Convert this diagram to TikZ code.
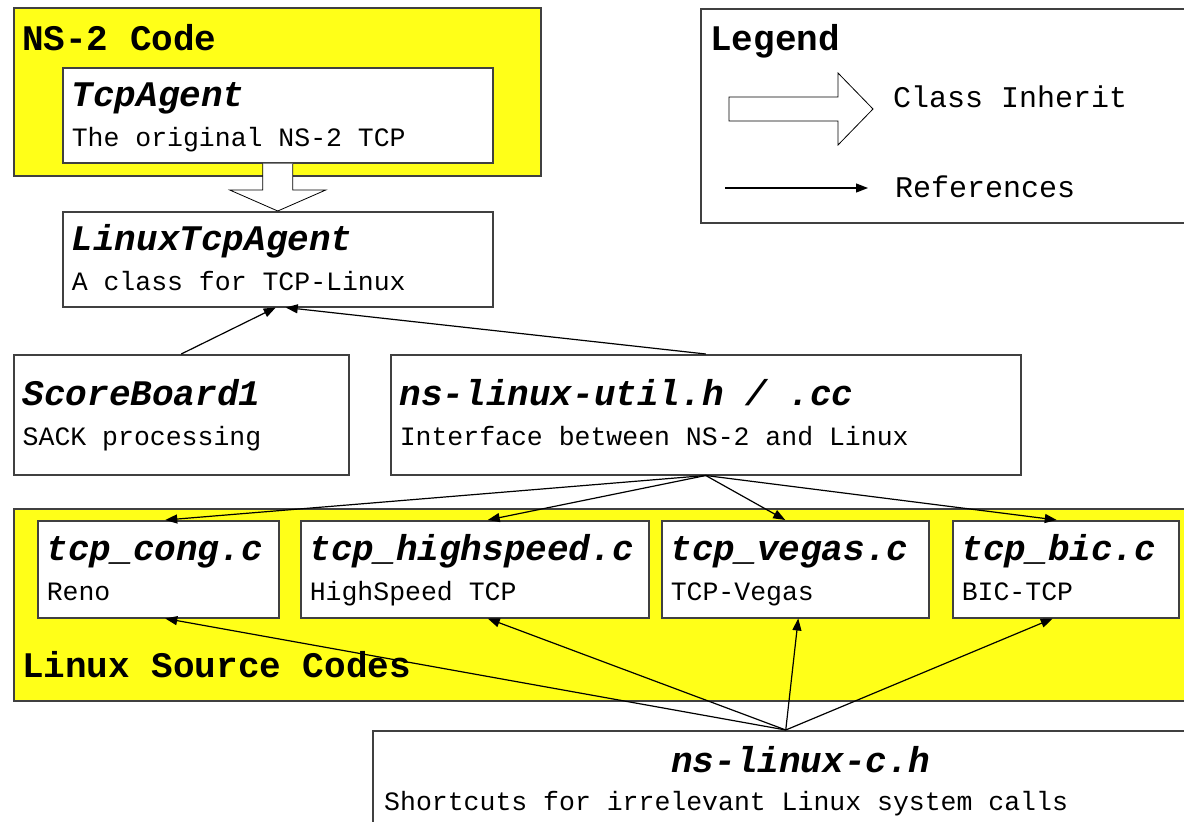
\documentclass[tikz,border=0pt]{standalone}
\usepackage{fontspec}
\setmainfont{Liberation Mono}
\usetikzlibrary{arrows.meta,calc}

\definecolor{srcyellow}{RGB}{255,255,24}
\newcommand{\clsname}[1]{{\fontsize{36}{40}\selectfont\bfseries\itshape #1}}
\newcommand{\clsbody}[2]{\spaceskip=0pt\xspaceskip=0pt\relax\rule{0pt}{32pt}\clsname{#1}\\\rule[-10pt]{0pt}{10pt}#2}

\begin{document}
\begin{tikzpicture}[x=1pt,y=-1pt,
	region/.style={draw=black!75,line width=1.5pt,fill=srcyellow,anchor=north west,inner sep=0pt},
	classbox/.style={draw=black!75,line width=1.5pt,fill=white,anchor=north west,align=left,inner xsep=9pt,inner ysep=0pt,font=\fontsize{26.5}{40}\selectfont},
	grouplabel/.style={anchor=base west,inner sep=0pt,font=\fontsize{36}{40}\selectfont\bfseries},
	legendtext/.style={anchor=base west,inner sep=0pt,font=\fontsize{30}{36}\selectfont},
	ref/.style={-{Triangle[length=12pt,width=9pt]},line width=1.2pt},
	inherit/.style={draw=black,line width=0.8pt,fill=white}]
		\useasboundingbox (0,0) rectangle (1184,822);
		\clip (0,0) rectangle (1184,822);
		
		% yellow groups
		\node[region,minimum width=527pt,minimum height=168pt] (ns2) at (13,7) {};
		\node[grouplabel] (ns2label) at (22,50) {NS-2 Code};
		\node[region,minimum width=1190pt,minimum height=192pt] (linuxsrc) at (13,508) {};
		\node[grouplabel] (linuxlabel) at (22,677) {Linux Source Codes};
		
		% legend
		\node[draw=black!75,line width=1.5pt,fill=white,anchor=north west,minimum width=500pt,minimum height=214pt] (legend) at (700,8) {};
		\node[grouplabel] (legendlabel) at (710,50) {Legend};
		\draw[inherit] (729,97) -- (838,97) -- (838,73) -- (873,109) -- (838,145) -- (838,121) -- (729,121) -- cycle;
		\node[legendtext] (inheritlabel) at (893,107) {Class Inherit};
		\coordinate (refstart) at (725,188);
		\coordinate (refend) at (868,188);
		\draw[ref] (refstart) -- (refend);
		\node[legendtext] (reflabel) at (895,197) {References};
		
		% classes
		\node[classbox,text width=412pt,minimum height=95pt] (tcpagent) at (62,67) {\clsbody{TcpAgent}{The original NS-2 TCP}};
		\node[classbox,text width=412pt,minimum height=95pt] (linuxagent) at (62,211) {\clsbody{LinuxTcpAgent}{A class for TCP-Linux}};
		\node[classbox,text width=317pt,minimum height=120pt] (score) at (13,354) {\clsbody{ScoreBoard1}{SACK processing}};
		\node[classbox,text width=612pt,minimum height=120pt] (util) at (390,354) {\clsbody{ns-linux-util.h / .cc}{Interface between NS-2 and Linux}};
		\node[classbox,text width=223pt,minimum height=97pt] (cong) at (37,520) {\clsbody{tcp\_cong.c}{Reno}};
		\node[classbox,text width=330pt,minimum height=97pt] (hs) at (300,520) {\clsbody{tcp\_highspeed.c}{HighSpeed TCP}};
		\node[classbox,text width=249pt,minimum height=97pt] (vegas) at (661,520) {\clsbody{tcp\_vegas.c}{TCP-Vegas}};
		\node[classbox,text width=208pt,minimum height=97pt] (bic) at (952,520) {\clsbody{tcp\_bic.c}{BIC-TCP}};
		\node[classbox,minimum width=826pt,minimum height=120pt] (nslinuxc) at (372,730) {};
		\node[anchor=base,inner sep=0pt] (nslinuxctitle) at (801,772) {\clsname{ns-linux-c.h}};
		\node[anchor=base west,inner sep=0pt,font=\fontsize{26.5}{40}\selectfont] (nslinuxcsub) at (384,810) {Shortcuts for irrelevant Linux system calls};
		
		% inheritance
		\draw[inherit] ($(tcpagent.south)+(-15,0)$) -- ($(linuxagent.north)+(-15,-21)$) -- ($(linuxagent.north)+(-48,-21)$) -- (linuxagent.north) -- ($(linuxagent.north)+(48,-21)$) -- ($(linuxagent.north)+(15,-21)$) -- ($(tcpagent.south)+(15,0)$);
		
		% references
		\draw[ref] (score.north) -- ([xshift=-2pt]linuxagent.south);
		\draw[ref] (util.north) -- ([xshift=8pt]linuxagent.south);
		\draw[ref] (util.south) -- ([xshift=7pt]cong.north);
		\draw[ref] (util.south) -- ([xshift=13pt]hs.north);
		\draw[ref] (util.south) -- ([xshift=-10pt]vegas.north);
		\draw[ref] (util.south) -- ([xshift=-9pt]bic.north);
		\draw[ref] (nslinuxc.north) -- ([xshift=7pt]cong.south);
		\draw[ref] (nslinuxc.north) -- ([xshift=13pt]hs.south);
		\draw[ref] (nslinuxc.north) -- ([xshift=3pt]vegas.south);
		\draw[ref] (nslinuxc.north) -- ([xshift=-13pt]bic.south);
\end{tikzpicture}
\end{document}
